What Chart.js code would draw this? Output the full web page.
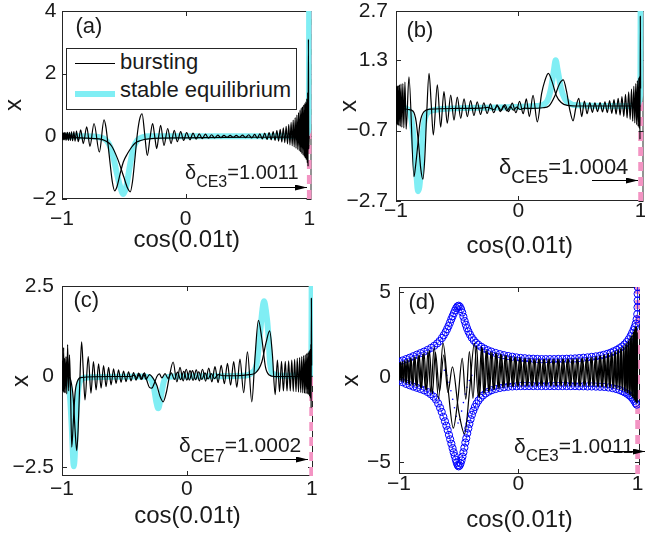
<!DOCTYPE html>
<html>
<head>
<meta charset="utf-8">
<script src="https://cdn.jsdelivr.net/npm/chart.js@4.4.1/dist/chart.umd.min.js"></script>
<style>
body{margin:0;background:#fff;}
#fig{position:relative;width:645px;height:534px;overflow:hidden;font-family:"Liberation Sans",Arial,Helvetica,sans-serif;color:#1a1a1a;}
#fig canvas{position:absolute;}
.t{position:absolute;white-space:nowrap;}
</style>
</head>
<body>
<div id="fig">
<canvas id="pa" width="322" height="267" style="left:0;top:0;width:322px;height:267px"></canvas>
<canvas id="pb" width="323" height="267" style="left:322px;top:0;width:323px;height:267px"></canvas>
<canvas id="pc" width="322" height="267" style="left:0;top:267px;width:322px;height:267px"></canvas>
<canvas id="pd" width="323" height="267" style="left:322px;top:267px;width:323px;height:267px"></canvas>

<div class="t" style="left:75.5px;top:14.8px;font-size:22px;line-height:22px">(a)</div>
<div class="t" style="left:406.5px;top:18.8px;font-size:22px;line-height:22px">(b)</div>
<div class="t" style="left:73.5px;top:288.8px;font-size:22px;line-height:22px">(c)</div>
<div class="t" style="left:408.5px;top:290.8px;font-size:22px;line-height:22px">(d)</div>

<!-- legend of panel (a) -->
<div style="position:absolute;left:66px;top:48px;width:229px;height:60px;border:1px solid #262626;background:#fff"></div>
<div style="position:absolute;left:75px;top:62.5px;width:40px;height:1.3px;background:#000"></div>
<div style="position:absolute;left:75px;top:91px;width:40px;height:6px;background:#80eef4"></div>
<div class="t" id="legA" style="left:120px;top:51.4px;font-size:22px;line-height:22px"></div>
<div class="t" id="legB" style="left:120px;top:79.4px;font-size:22px;line-height:22px"></div>

<div class="t" style="left:185px;top:162.1px;font-size:20px;line-height:20px">δ<span style="font-size:16px;position:relative;top:8px">CE3</span>=1.0011</div>
<div class="t" style="left:499px;top:156.4px;font-size:22px;line-height:22px">δ<span style="font-size:19px;position:relative;top:9px">CE5</span>=1.0004</div>
<div class="t" style="left:179px;top:434.2px;font-size:21px;line-height:21px">δ<span style="font-size:17.5px;position:relative;top:10px">CE7</span>=1.0002</div>
<div class="t" style="left:514px;top:434.7px;font-size:21px;line-height:21px">δ<span style="font-size:17px;position:relative;top:8px">CE3</span>=1.0011</div>

<svg width="645" height="534" style="position:absolute;left:0;top:0">
<defs><marker id="ah" markerWidth="12" markerHeight="6" refX="12" refY="3" orient="auto" markerUnits="userSpaceOnUse"><path d="M0,0 L12,3 L0,6 Z" fill="#000"/></marker></defs>
<line x1="260" y1="187.5" x2="307" y2="187.5" stroke="#000" stroke-width="1" marker-end="url(#ah)"/>
<line x1="592" y1="180.5" x2="638" y2="180.5" stroke="#000" stroke-width="1" marker-end="url(#ah)"/>
<line x1="260" y1="459.5" x2="308" y2="459.5" stroke="#000" stroke-width="1" marker-end="url(#ah)"/>
<line x1="603" y1="451.5" x2="645" y2="451.5" stroke="#000" stroke-width="1" marker-end="url(#ah)"/>
</svg>
</div>

<script>
// Tick labels
const xTicks = [-1, 0, 1];
const aTicksY = [-2, 0, 2, 4];
const bTicksY = [-2.7, -0.7, 1.3, 2.7];
const cTicksY = [-2.5, 0, 2.5];
const dTicksY = [-5, 0, 5];

// delta positions (pink dashed lines)
const deltaA = 1.0011;
const deltaB = 1.0004;
const deltaC = 1.0002;
const deltaD = 1.0011;

const seriesLabels = ["bursting", "stable equilibrium"];

// Panel (a)
const aEq = [[-1,0],[-0.8,0],[-0.7,-0.03],[-0.65,-0.1],[-0.62,-0.25],[-0.6,-0.45],[-0.58,-0.75],[-0.555,-1.2],[-0.53,-1.6],[-0.505,-1.84],[-0.48,-1.6],[-0.46,-1.15],[-0.44,-0.7],[-0.42,-0.35],[-0.39,-0.12],[-0.35,-0.03],[-0.3,0],[0.5,0],[0.97,0.02],[0.99,0.15],[0.997,0.8],[0.999,4.5]];

const aBurstA = [[-1,-0.03],[-0.9,-0.04],[-0.8,-0.06],[-0.7,-0.08],[-0.65,-0.14],[-0.6,-0.3],[-0.55,-0.72],[-0.5,-1.3],[-0.47,-1.65],[-0.448,-1.77],[-0.43,-1.45],[-0.41,-0.7],[-0.39,0.1],[-0.37,0.58],[-0.352,0.72],[-0.332,0.1],[-0.31,-0.61],[-0.288,-0.05],[-0.267,0.41],[-0.25,0],[-0.234,-0.39],[-0.218,0],[-0.202,0.35],[-0.175,-0.29],[-0.145,0.25],[-0.118,-0.23],[-0.092,0.19],[-0.067,-0.17],[-0.04,0.15],[-0.016,-0.13],[0.008,0.12],[0.035,-0.11],[0.06,0.1],[0.085,-0.09],[0.11,0.08],[0.135,-0.07],[0.16,0.07],[0.185,-0.06],[0.21,0.05],[0.235,-0.05],[0.26,0.04],[0.285,-0.04],[0.31,0.03],[0.335,-0.03],[0.36,0.03],[0.385,-0.03],[0.41,0.03],[0.435,-0.03],[0.46,0.04],[0.485,-0.04],[0.51,0.05],[0.535,-0.05],[0.558,0.06],[0.58,-0.06],[0.6,0.08],[0.62,-0.08],[0.64,0.1],[0.658,-0.1],[0.675,0.12],[0.692,-0.11],[0.708,0.15],[0.723,-0.13],[0.738,0.18],[0.752,-0.15],[0.765,0.22],[0.778,-0.18],[0.79,0.27],[0.802,-0.2],[0.813,0.32],[0.824,-0.24],[0.834,0.38],[0.844,-0.27],[0.853,0.45],[0.862,-0.3],[0.87,0.52],[0.878,-0.34],[0.886,0.6],[0.893,-0.38],[0.9,0.68],[0.907,-0.42],[0.913,0.76],[0.919,-0.46],[0.925,0.84],[0.93,-0.5],[0.935,0.9],[0.94,-0.55],[0.945,0.95],[0.95,-0.6],[0.955,1.0],[0.96,-0.65],[0.964,1.05],[0.968,-0.7],[0.972,1.1],[0.976,-0.75],[0.98,1.2],[0.984,-0.85],[0.987,1.4],[0.99,-0.96],[0.993,3.1],[0.996,-0.4],[0.999,0]];

const aBurstB = [[-1,0.1],[-0.998,-0.1],[-0.995,0.11],[-0.992,-0.11],[-0.988,0.11],[-0.984,-0.11],[-0.979,0.12],[-0.974,-0.12],[-0.968,0.12],[-0.962,-0.12],[-0.955,0.13],[-0.948,-0.13],[-0.94,0.13],[-0.932,-0.13],[-0.923,0.14],[-0.914,-0.14],[-0.904,0.15],[-0.894,-0.15],[-0.883,0.17],[-0.868,-0.17],[-0.849,0.21],[-0.828,-0.23],[-0.8,0.3],[-0.774,-0.32],[-0.741,0.41],[-0.698,-0.5],[-0.66,0.53],[-0.645,0.3],[-0.628,-0.25],[-0.61,-0.9],[-0.593,-1.45],[-0.574,-1.74],[-0.555,-1.6],[-0.53,-1.2],[-0.504,-0.82],[-0.47,-0.55],[-0.436,-0.34],[-0.41,-0.22],[-0.37,-0.14],[-0.3,-0.08],[0,-0.05],[0.5,-0.03],[0.95,-0.02],[0.999,0]];

// Panel (b)
const bEq = [[-1,0],[-0.95,-0.04],[-0.91,-0.08],[-0.885,-0.2],[-0.867,-0.55],[-0.847,-1.25],[-0.832,-2.0],[-0.82,-2.42],[-0.809,-2.3],[-0.798,-1.85],[-0.785,-0.97],[-0.766,-0.4],[-0.73,-0.16],[-0.66,-0.1],[-0.3,-0.05],[0.15,0],[0.232,0.12],[0.267,0.5],[0.29,1.0],[0.305,1.3],[0.32,1.05],[0.349,0.5],[0.38,0.2],[0.408,0.1],[0.45,0.03],[0.9,0],[0.98,0.05],[0.995,0.3],[0.998,0.8],[0.9995,3]];

const bBurstA = [[-1,-0.05],[-0.95,-0.07],[-0.9,-0.1],[-0.86,-0.15],[-0.835,-0.45],[-0.815,-1.1],[-0.797,-1.8],[-0.78,-2.08],[-0.765,-1.5],[-0.75,-0.3],[-0.73,0.93],[-0.712,0.05],[-0.695,-0.82],[-0.662,0.6],[-0.635,-0.6],[-0.608,0.41],[-0.581,-0.49],[-0.553,0.31],[-0.526,-0.4],[-0.499,0.25],[-0.471,-0.35],[-0.444,0.2],[-0.417,-0.3],[-0.39,0.15],[-0.363,-0.27],[-0.336,0.12],[-0.309,-0.24],[-0.282,0.09],[-0.255,-0.21],[-0.228,0.06],[-0.201,-0.19],[-0.174,0.03],[-0.147,-0.16],[-0.12,0.01],[-0.093,-0.14],[-0.066,-0.01],[-0.04,-0.12],[-0.013,-0.03],[0.015,-0.1],[0.05,-0.06],[0.1,-0.07],[0.2,-0.05],[0.25,0],[0.3,0.3],[0.335,0.62],[0.367,0.74],[0.395,0.4],[0.42,-0.1],[0.447,-0.42],[0.47,-0.05],[0.494,0.22],[0.518,-0.3],[0.54,0.14],[0.562,-0.22],[0.584,0.1],[0.605,-0.18],[0.626,0.09],[0.647,-0.16],[0.668,0.1],[0.688,-0.17],[0.708,0.12],[0.727,-0.19],[0.746,0.15],[0.764,-0.21],[0.782,0.18],[0.799,-0.23],[0.816,0.22],[0.832,-0.26],[0.847,0.27],[0.862,-0.3],[0.876,0.33],[0.889,-0.34],[0.902,0.4],[0.914,-0.38],[0.925,0.48],[0.935,-0.43],[0.944,0.56],[0.952,-0.48],[0.96,0.64],[0.967,-0.53],[0.973,0.72],[0.979,-0.58],[0.984,0.8],[0.988,-0.63],[0.991,0.85],[0.994,-0.95],[0.997,2.55],[0.999,0.5]];

const bBurstB = [[-1,0],[-0.999,0.55],[-0.997,-0.5],[-0.995,0.56],[-0.992,-0.52],[-0.989,0.57],[-0.985,-0.54],[-0.981,0.58],[-0.976,-0.56],[-0.971,0.6],[-0.965,-0.58],[-0.959,0.62],[-0.952,-0.6],[-0.944,0.64],[-0.936,-0.62],[-0.927,0.68],[-0.917,-0.66],[-0.894,0.83],[-0.853,-2.01],[-0.84,-1.7],[-0.826,-1.25],[-0.804,-0.49],[-0.771,-0.16],[-0.717,-0.09],[-0.5,-0.07],[-0.3,-0.06],[-0.25,-0.04],[-0.2,-0.1],[-0.17,0],[-0.14,-0.13],[-0.11,0.04],[-0.08,-0.16],[-0.05,0.08],[-0.02,-0.19],[0.01,0.13],[0.04,-0.22],[0.065,0.2],[0.09,-0.3],[0.12,0.3],[0.155,-0.45],[0.19,0.35],[0.215,0.7],[0.245,0.93],[0.275,0.7],[0.31,0.3],[0.35,0.1],[0.4,0.02],[0.5,0],[0.9,0],[0.999,0]];

// Panel (c)
const cEq = [[-1,0],[-0.97,-0.05],[-0.95,-0.15],[-0.935,-0.6],[-0.922,-1.4],[-0.912,-2.2],[-0.906,-2.48],[-0.898,-2.2],[-0.888,-1.3],[-0.87,-0.37],[-0.85,-0.1],[-0.8,-0.03],[-0.35,0],[-0.295,-0.05],[-0.265,-0.3],[-0.245,-0.7],[-0.229,-0.88],[-0.215,-0.7],[-0.195,-0.3],[-0.175,-0.05],[-0.12,0],[0.45,0.02],[0.52,0.1],[0.56,0.37],[0.586,1.2],[0.605,1.85],[0.618,2.08],[0.632,1.85],[0.652,1.2],[0.666,0.37],[0.69,0.08],[0.75,0.02],[0.98,0.03],[0.995,0.3],[0.998,1.2],[0.9995,3]];

const cBurstA = [[-1,0.02],[-0.95,0],[-0.93,-0.1],[-0.91,-0.6],[-0.895,-1.5],[-0.882,-2.05],[-0.87,-1.4],[-0.858,-0.2],[-0.843,0.96],[-0.83,0.2],[-0.816,-0.65],[-0.79,0.55],[-0.768,-0.46],[-0.748,0.41],[-0.727,-0.37],[-0.707,0.35],[-0.687,-0.32],[-0.667,0.3],[-0.647,-0.28],[-0.627,0.25],[-0.607,-0.23],[-0.587,0.21],[-0.567,-0.19],[-0.547,0.18],[-0.527,-0.16],[-0.507,0.15],[-0.487,-0.14],[-0.467,0.13],[-0.447,-0.12],[-0.427,0.11],[-0.407,-0.1],[-0.387,0.09],[-0.367,-0.09],[-0.347,0.08],[-0.327,-0.08],[-0.3,0.05],[-0.27,-0.05],[-0.24,-0.25],[-0.215,-0.55],[-0.19,-0.7],[-0.165,-0.45],[-0.14,0],[-0.11,0.4],[-0.08,-0.15],[-0.055,0.25],[-0.03,-0.12],[-0.005,0.2],[0.02,-0.1],[0.045,0.16],[0.07,-0.09],[0.095,0.13],[0.12,-0.08],[0.145,0.1],[0.17,-0.07],[0.195,0.08],[0.22,-0.06],[0.25,0.05],[0.3,0.02],[0.4,0.02],[0.5,0.05],[0.55,0.1],[0.6,0.4],[0.635,0.95],[0.663,1.26],[0.685,0.6],[0.707,-0.5],[0.725,0.45],[0.742,-0.42],[0.758,0.42],[0.773,-0.4],[0.788,0.42],[0.802,-0.4],[0.815,0.43],[0.828,-0.4],[0.84,0.45],[0.852,-0.41],[0.863,0.47],[0.874,-0.42],[0.884,0.5],[0.894,-0.43],[0.903,0.52],[0.912,-0.44],[0.92,0.55],[0.928,-0.45],[0.935,0.58],[0.942,-0.46],[0.948,0.6],[0.954,-0.47],[0.96,0.63],[0.965,-0.48],[0.97,0.66],[0.975,-0.5],[0.979,0.7],[0.983,-0.55],[0.987,0.75],[0.99,-0.6],[0.993,0.9],[0.995,-0.87],[0.997,2.16],[0.999,0.3]];

const cBurstB = [[-1,0],[-0.998,0.42],[-0.996,-0.4],[-0.993,0.45],[-0.99,-0.42],[-0.987,0.8],[-0.983,-0.45],[-0.979,0.5],[-0.974,-0.45],[-0.968,0.55],[-0.962,-0.48],[-0.955,0.88],[-0.947,-0.4],[-0.94,0.6],[-0.931,-0.5],[-0.922,-1.95],[-0.91,-1.3],[-0.895,-0.45],[-0.875,-0.12],[-0.85,-0.03],[-0.6,0],[-0.45,0],[-0.42,0.04],[-0.4,-0.05],[-0.38,0.07],[-0.36,-0.08],[-0.34,0.1],[-0.32,-0.12],[-0.3,-0.3],[-0.28,-0.32],[-0.26,-0.18],[-0.24,0],[-0.22,0.07],[-0.2,-0.04],[-0.175,0.08],[-0.15,-0.06],[-0.125,0.1],[-0.1,-0.08],[-0.075,0.12],[-0.05,-0.09],[-0.025,0.14],[0,-0.1],[0.025,0.16],[0.05,-0.11],[0.075,0.18],[0.1,-0.12],[0.125,0.2],[0.15,-0.13],[0.175,0.23],[0.2,-0.15],[0.225,0.27],[0.25,-0.17],[0.275,0.31],[0.3,-0.2],[0.325,0.36],[0.35,-0.24],[0.375,0.41],[0.4,-0.3],[0.425,0.48],[0.455,-0.45],[0.485,0.68],[0.52,-0.7],[0.545,0.5],[0.573,1.55],[0.6,1.05],[0.63,0.25],[0.66,0.04],[0.7,0],[0.9,0],[0.999,0]];

// Panel (d)
const dUpper = [[-1,0.9],[-0.97,0.98],[-0.94,1.06],[-0.91,1.14],[-0.88,1.23],[-0.85,1.32],[-0.82,1.41],[-0.79,1.5],[-0.76,1.6],[-0.73,1.72],[-0.705,1.84],[-0.68,1.98],[-0.66,2.12],[-0.64,2.3],[-0.625,2.46],[-0.61,2.64],[-0.597,2.82],[-0.585,3.0],[-0.573,3.2],[-0.562,3.4],[-0.551,3.58],[-0.54,3.76],[-0.53,3.92],[-0.52,4.06],[-0.51,4.16],[-0.5,4.2],[-0.49,4.14],[-0.48,4.0],[-0.47,3.8],[-0.46,3.55],[-0.45,3.3],[-0.44,3.08],[-0.43,2.88],[-0.418,2.68],[-0.405,2.5],[-0.39,2.32],[-0.373,2.16],[-0.355,2.02],[-0.335,1.9],[-0.31,1.78],[-0.285,1.68],[-0.255,1.58],[-0.225,1.5],[-0.19,1.42],[-0.155,1.35],[-0.12,1.29],[-0.085,1.24],[-0.05,1.2],[-0.015,1.16],[0.02,1.13],[0.055,1.11],[0.09,1.09],[0.125,1.08],[0.16,1.07],[0.195,1.06],[0.23,1.06],[0.265,1.06],[0.3,1.06],[0.335,1.07],[0.37,1.07],[0.405,1.08],[0.44,1.09],[0.475,1.1],[0.51,1.12],[0.545,1.14],[0.58,1.16],[0.615,1.19],[0.65,1.22],[0.685,1.26],[0.715,1.31],[0.745,1.37],[0.775,1.44],[0.8,1.52],[0.825,1.6],[0.848,1.7],[0.87,1.8],[0.89,1.92],[0.908,2.06],[0.925,2.22],[0.94,2.4],[0.953,2.58],[0.965,2.76],[0.975,2.94],[0.985,3.15],[0.992,3.4],[0.997,3.7],[0.999,4.1],[1.0,4.5],[1.0,4.9],[1.0,5.3]];

const dLower = [[-1,-0.2],[-0.97,-0.3],[-0.94,-0.4],[-0.91,-0.48],[-0.88,-0.56],[-0.85,-0.63],[-0.82,-0.7],[-0.79,-0.78],[-0.76,-0.88],[-0.735,-1.0],[-0.71,-1.15],[-0.69,-1.32],[-0.672,-1.55],[-0.656,-1.8],[-0.642,-2.05],[-0.628,-2.34],[-0.615,-2.6],[-0.603,-2.86],[-0.592,-3.12],[-0.581,-3.4],[-0.571,-3.66],[-0.561,-3.92],[-0.551,-4.18],[-0.542,-4.42],[-0.533,-4.64],[-0.524,-4.86],[-0.516,-5.04],[-0.508,-5.18],[-0.5,-5.25],[-0.492,-5.2],[-0.484,-5.08],[-0.476,-4.9],[-0.468,-4.68],[-0.46,-4.42],[-0.452,-4.15],[-0.444,-3.85],[-0.436,-3.6],[-0.428,-3.3],[-0.419,-3.02],[-0.41,-2.75],[-0.4,-2.48],[-0.389,-2.22],[-0.377,-1.98],[-0.364,-1.76],[-0.35,-1.56],[-0.334,-1.38],[-0.316,-1.22],[-0.296,-1.08],[-0.274,-0.96],[-0.25,-0.86],[-0.222,-0.77],[-0.19,-0.7],[-0.155,-0.64],[-0.12,-0.6],[-0.085,-0.57],[-0.05,-0.55],[-0.015,-0.54],[0.02,-0.53],[0.055,-0.53],[0.09,-0.53],[0.125,-0.53],[0.16,-0.53],[0.195,-0.53],[0.23,-0.53],[0.265,-0.53],[0.3,-0.53],[0.335,-0.53],[0.37,-0.53],[0.405,-0.53],[0.44,-0.53],[0.475,-0.53],[0.51,-0.54],[0.545,-0.54],[0.58,-0.55],[0.615,-0.55],[0.65,-0.56],[0.685,-0.57],[0.72,-0.58],[0.755,-0.61],[0.79,-0.65],[0.82,-0.7],[0.848,-0.76],[0.872,-0.83],[0.893,-0.9],[0.912,-0.98],[0.93,-1.07],[0.946,-1.17],[0.96,-1.28],[0.972,-1.4],[0.983,-1.53],[0.993,-1.62]];

const dDots = [[-0.62,0.4],[-0.6,0.1],[-0.58,-0.3],[-0.565,-0.8],[-0.55,-1.3],[-0.535,-1.8],[-0.52,-2.3],[-0.505,-2.7],[-0.49,-2.5],[-0.475,-2.0],[-0.46,-1.5],[-0.445,-1.0],[-0.43,-0.6],[-0.41,-0.2],[-0.39,0.1]];

const dBurstA = [[-1,0.85],[-0.995,-0.18],[-0.989,0.87],[-0.982,-0.22],[-0.974,0.92],[-0.965,-0.28],[-0.955,0.98],[-0.944,-0.34],[-0.932,1.04],[-0.919,-0.41],[-0.905,1.1],[-0.89,-0.48],[-0.874,1.18],[-0.857,-0.55],[-0.839,1.26],[-0.82,-0.62],[-0.8,1.36],[-0.779,-0.72],[-0.757,1.5],[-0.734,-0.9],[-0.705,1.77],[-0.669,-1.28],[-0.631,2.0],[-0.59,-0.6],[-0.545,-3.0],[-0.505,-1.2],[-0.47,1.1],[-0.44,-1.3],[-0.41,1.5],[-0.38,-1.25],[-0.35,1.85],[-0.325,-1.2],[-0.3,1.7],[-0.28,-0.95],[-0.26,1.55],[-0.24,-0.82],[-0.22,1.46],[-0.2,-0.72],[-0.18,1.4],[-0.16,-0.66],[-0.14,1.32],[-0.12,-0.6],[-0.1,1.27],[-0.08,-0.58],[-0.06,1.22],[-0.04,-0.56],[-0.02,1.18],[0,-0.54],[0.02,1.14],[0.04,-0.53],[0.06,1.11],[0.08,-0.53],[0.1,1.09],[0.12,-0.52],[0.14,1.08],[0.16,-0.52],[0.18,1.07],[0.2,-0.52],[0.22,1.06],[0.24,-0.52],[0.26,1.06],[0.28,-0.52],[0.3,1.06],[0.32,-0.52],[0.34,1.06],[0.36,-0.52],[0.38,1.07],[0.4,-0.52],[0.42,1.08],[0.44,-0.52],[0.46,1.09],[0.48,-0.53],[0.5,1.1],[0.52,-0.53],[0.54,1.12],[0.56,-0.53],[0.58,1.15],[0.6,-0.54],[0.618,1.18],[0.636,-0.55],[0.654,1.22],[0.672,-0.56],[0.69,1.26],[0.707,-0.58],[0.724,1.32],[0.74,-0.6],[0.756,1.39],[0.771,-0.62],[0.786,1.46],[0.8,-0.65],[0.814,1.54],[0.827,-0.69],[0.84,1.63],[0.852,-0.74],[0.864,1.74],[0.875,-0.8],[0.886,1.86],[0.896,-0.87],[0.906,2.0],[0.915,-0.95],[0.924,2.16],[0.932,-1.04],[0.94,2.35],[0.947,-1.12],[0.954,2.5],[0.96,-1.22],[0.966,2.68],[0.971,-1.32],[0.976,2.85],[0.98,-1.42],[0.984,3.0],[0.988,-1.5],[0.992,2.9],[0.996,-1.55],[0.999,0.5]];

const dBurstB = [[-1,-0.15],[-0.997,0.86],[-0.992,-0.2],[-0.986,0.88],[-0.978,-0.25],[-0.97,0.93],[-0.96,-0.3],[-0.95,0.99],[-0.938,-0.37],[-0.926,1.05],[-0.912,-0.44],[-0.898,1.12],[-0.882,-0.51],[-0.866,1.2],[-0.848,-0.58],[-0.83,1.3],[-0.81,-0.67],[-0.79,1.42],[-0.768,-0.8],[-0.745,1.58],[-0.72,-1.0],[-0.695,1.45],[-0.66,-0.85],[-0.625,1.3],[-0.59,-0.9],[-0.552,0.6],[-0.5,-2.0],[-0.45,-3.35],[-0.41,-0.9],[-0.368,2.0],[-0.335,-1.18],[-0.308,1.8],[-0.29,-1.0],[-0.27,1.6],[-0.25,-0.86],[-0.23,1.5],[-0.21,-0.76],[-0.19,1.42],[-0.17,-0.68],[-0.15,1.35],[-0.13,-0.62],[-0.11,1.3],[-0.09,-0.59],[-0.07,1.25],[-0.05,-0.56],[-0.03,1.2],[-0.01,-0.55],[0.01,1.16],[0.03,-0.54],[0.05,1.12],[0.07,-0.53],[0.09,1.1],[0.11,-0.53],[0.13,1.08],[0.15,-0.52],[0.17,1.07],[0.19,-0.52],[0.21,1.06],[0.23,-0.52],[0.25,1.06],[0.27,-0.52],[0.29,1.06],[0.31,-0.52],[0.33,1.06],[0.35,-0.52],[0.37,1.07],[0.39,-0.52],[0.41,1.08],[0.43,-0.52],[0.45,1.09],[0.47,-0.53],[0.49,1.1],[0.51,-0.53],[0.53,1.11],[0.55,-0.53],[0.57,1.14],[0.59,-0.54],[0.609,1.17],[0.627,-0.55],[0.645,1.2],[0.663,-0.56],[0.681,1.24],[0.698,-0.57],[0.715,1.3],[0.732,-0.59],[0.748,1.36],[0.763,-0.61],[0.778,1.43],[0.793,-0.64],[0.807,1.5],[0.82,-0.67],[0.833,1.58],[0.846,-0.72],[0.858,1.68],[0.87,-0.77],[0.881,1.8],[0.891,-0.84],[0.901,1.93],[0.91,-0.91],[0.919,2.08],[0.928,-0.99],[0.936,2.26],[0.943,-1.08],[0.95,2.42],[0.957,-1.17],[0.963,2.6],[0.968,-1.27],[0.973,2.76],[0.978,-1.37],[0.982,2.9],[0.986,-1.46],[0.99,3.0],[0.994,-1.52],[0.997,2.6],[0.9995,0.5]];

const ink = "#1a1a1a";
const cyan = "#80eef4";
const pink = "#f394c3";

Chart.defaults.font.family = '"Liberation Sans", Arial, Helvetica, sans-serif';

function fmt(v){
  return v < 0 ? "\u2212" + Math.abs(v) : String(v);
}

function pts(arr){
  return arr.map(p => ({x: p[0], y: p[1]}));
}

// box round the plot and small inward ticks
const framePlugin = {
  id: "frame",
  beforeDatasetsDraw(chart){
    const ctx = chart.ctx;
    const a = chart.chartArea;
    const sx = chart.scales.x, sy = chart.scales.y;
    ctx.save();
    ctx.strokeStyle = "#262626";
    ctx.lineWidth = 1;
    ctx.strokeRect(a.left + 0.5, a.top + 0.5, a.right - a.left - 1, a.bottom - a.top - 1);
    ctx.beginPath();
    sx.ticks.forEach(t => {
      const px = Math.round(sx.getPixelForValue(t.value)) + 0.5;
      ctx.moveTo(px, a.bottom); ctx.lineTo(px, a.bottom - 5);
      ctx.moveTo(px, a.top); ctx.lineTo(px, a.top + 5);
    });
    sy.ticks.forEach(t => {
      const py = Math.round(sy.getPixelForValue(t.value)) + 0.5;
      ctx.moveTo(a.left, py); ctx.lineTo(a.left + 5, py);
      ctx.moveTo(a.right, py); ctx.lineTo(a.right - 5, py);
    });
    ctx.stroke();
    ctx.restore();
  }
};

function blackLine(arr){
  return {label: seriesLabels[0], data: pts(arr), showLine: true, borderColor: "#000", borderWidth: 1.2,
    pointRadius: 0, cubicInterpolationMode: "monotone", clip: 0, order: 0};
}
function eqLine(arr){
  return {label: seriesLabels[1], data: pts(arr), showLine: true, borderColor: cyan, borderWidth: 6,
    borderCapStyle: "round", borderJoinStyle: "round", pointRadius: 0, cubicInterpolationMode: "monotone", clip: 0, order: 2};
}
function pinkLine(d, yr){
  return {label: "delta", data: [{x: d, y: yr[0]}, {x: d, y: yr[1]}], showLine: true, borderColor: pink,
    borderWidth: 5, borderDash: [9, 6], pointRadius: 0, clip: 0, order: 3};
}

function panel(id, o){
  return new Chart(document.getElementById(id), {
    type: "scatter",
    data: {datasets: o.datasets},
    options: {
      responsive: false,
      animation: false,
      devicePixelRatio: 1,
      layout: {padding: {top: o.padTop, right: o.padRight, left: 0, bottom: 0}},
      plugins: {legend: {display: false}, tooltip: {enabled: false}},
      scales: {
        x: {
          type: "linear", min: -1, max: o.xMax,
          grid: {display: false, drawTicks: false},
          border: {display: false},
          afterBuildTicks: s => { s.ticks = xTicks.map(v => ({value: v})); },
          afterFit: s => { s.height = o.xH; s.paddingLeft = 0; s.paddingRight = 0; },
          ticks: {padding: o.xTickPad, maxRotation: 0, autoSkip: false, callback: fmt, color: ink, font: {size: 21, lineHeight: 1}},
          title: {display: true, text: "cos(0.01t)", color: ink, font: {size: 24, lineHeight: 1}, padding: {top: 0, bottom: o.xTitlePad}}
        },
        y: {
          type: "linear", min: o.yRange[0], max: o.yRange[1],
          grid: {display: false, drawTicks: false},
          border: {display: false},
          afterBuildTicks: s => { s.ticks = o.yTicks.map(v => ({value: v})); },
          afterFit: s => { s.width = o.yW; s.paddingTop = 0; s.paddingBottom = 0; },
          ticks: {padding: o.yTickPad, autoSkip: false, callback: fmt, color: ink, font: {size: 21, lineHeight: 1}},
          title: {display: true, text: "x", color: ink, font: {size: 24, lineHeight: 1}, padding: {top: o.yTitlePad, bottom: 0}}
        }
      }
    },
    plugins: [framePlugin]
  });
}

document.getElementById("legA").textContent = seriesLabels[0];
document.getElementById("legB").textContent = seriesLabels[1];

const aRange = [-2, 4];
panel("pa", {
  datasets: [blackLine(aBurstA), blackLine(aBurstB), eqLine(aEq), pinkLine(deltaA, aRange)],
  padTop: 11, padRight: 10.5, yW: 62, xH: 68, xMax: 1.018, yRange: aRange, yTicks: aTicksY,
  xTickPad: 9.5, xTitlePad: 15, yTickPad: 5.5, yTitlePad: 2
});

const bRange = [-2.7, 2.7];
panel("pb", {
  datasets: [blackLine(bBurstA), blackLine(bBurstB), eqLine(bEq), pinkLine(deltaB, bRange)],
  padTop: 11, padRight: 1.5, yW: 74, xH: 66, xMax: 1.023, yRange: bRange, yTicks: bTicksY,
  xTickPad: 0, xTitlePad: 8.3, yTickPad: 8, yTitlePad: 15
});

const cRange = [-2.75, 2.5];
panel("pc", {
  datasets: [blackLine(cBurstA), blackLine(cBurstB), eqLine(cEq), pinkLine(deltaC, cRange)],
  padTop: 19, padRight: 9, yW: 62, xH: 58, xMax: 1.01, yRange: cRange, yTicks: cTicksY,
  xTickPad: 3, xTitlePad: 5.7, yTickPad: 8, yTitlePad: 9
});

const dRange = [-5.7, 5.3];
const circleStyle = {showLine: true, borderColor: "#0000ff", borderWidth: 0.8, pointRadius: 3.6,
  pointBorderWidth: 1, pointBorderColor: "#0000ff", pointBackgroundColor: "rgba(0,0,0,0)", tension: 0, clip: 0, order: 1};
panel("pd", {
  datasets: [
    blackLine(dBurstA), blackLine(dBurstB),
    Object.assign({label: "max", data: pts(dUpper)}, circleStyle),
    Object.assign({label: "min", data: pts(dLower)}, circleStyle),
    {label: "dots", data: pts(dDots), showLine: false, pointRadius: 0.8, pointBackgroundColor: "#0000ff", pointBorderWidth: 0, order: 2},
    pinkLine(deltaD, dRange)
  ],
  padTop: 20, padRight: 0, yW: 77, xH: 60, xMax: 1.02, yRange: dRange, yTicks: dTicksY,
  xTickPad: 0, xTitlePad: 1.7, yTickPad: 8, yTitlePad: 17
});
</script>
</body>
</html>
